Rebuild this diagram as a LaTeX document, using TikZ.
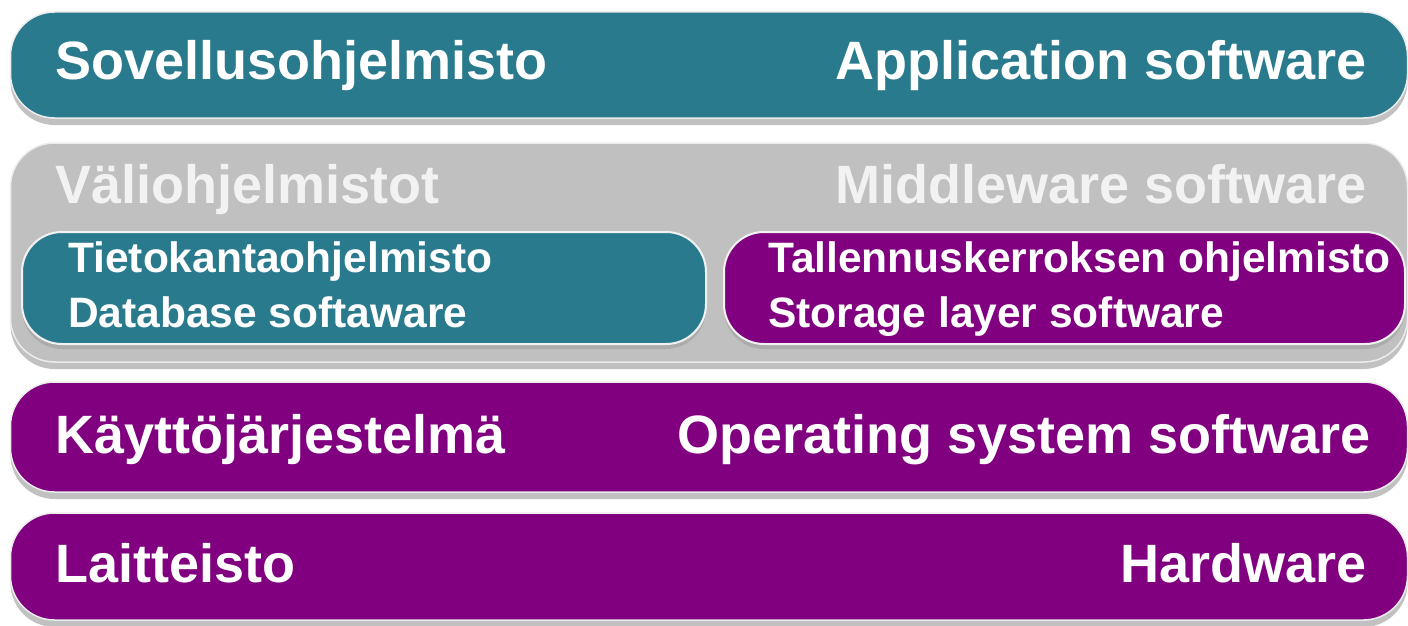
\documentclass[tikz,border=0pt]{standalone}
\usepackage{fontspec}
\setmainfont{Liberation Sans}
\usetikzlibrary{shadows}
\definecolor{tealbar}{HTML}{2A7A8E}
\definecolor{purpbar}{HTML}{800080}
\definecolor{graybar}{HTML}{C0C0C0}
\definecolor{graytxt}{HTML}{F2F2F2}
\begin{document}
\begin{tikzpicture}[x=1pt,y=-1pt,
  bar/.style={rounded corners=44pt, draw=white!85!gray, line width=1.5pt,
    minimum width=1397pt, inner sep=0pt,
    drop shadow={shadow xshift=0pt, shadow yshift=-7pt, fill=black!40, opacity=0.6}},
  inbox/.style={rounded corners=40pt, draw=white!90!gray, line width=2pt,
    minimum height=112pt, inner sep=0pt,
    drop shadow={shadow xshift=0pt, shadow yshift=-5pt, fill=black!40, opacity=0.5}},
  big/.style={text=white, inner sep=0pt, font=\fontsize{54}{60}\selectfont\bfseries},
  small/.style={text=white, inner sep=0pt, font=\fontsize{42.5}{46}\selectfont\bfseries},
]
\useasboundingbox (0,0) rectangle (1408,626);
\fill[white] (0,0) rectangle (1408,626);

% bars
\node[bar, fill=tealbar, minimum height=106pt] (app) at (709,65) {};
\node[bar, fill=graybar, minimum height=219pt] (mid) at (709,252.5) {};
\node[inbox, fill=tealbar, minimum width=684pt] (db) at (364,288) {};
\node[inbox, fill=purpbar, minimum width=681pt] (st) at (1064.5,288) {};
\node[bar, fill=purpbar, minimum height=110pt] (os) at (709,437) {};
\node[bar, fill=purpbar, minimum height=107pt] (hw) at (709,566.5) {};

% labels
\node[big, anchor=base west] (appfi) at (55,80) {Sovellusohjelmisto};
\node[big, anchor=base east] (appen) at (1367,80) {Application software};
\node[big, anchor=base west, text=graytxt] (midfi) at (55,203) {Väliohjelmistot};
\node[big, anchor=base east, text=graytxt] (miden) at (1367,203) {Middleware software};
\node[small, anchor=base west] (db1) at (68,272) {Tietokantaohjelmisto};
\node[small, anchor=base west] (db2) at (68,327) {Database softaware};
\node[small, anchor=base west] (st1) at (768,272) {Tallennuskerroksen ohjelmisto};
\node[small, anchor=base west] (st2) at (768,327) {Storage layer software};
\node[big, anchor=base west] (osfi) at (55,453) {Käyttöjärjestelmä};
\node[big, anchor=base east] (osen) at (1371,453) {Operating system software};
\node[big, anchor=base west] (hwfi) at (55,582) {Laitteisto};
\node[big, anchor=base east] (hwen) at (1367,582) {Hardware};
\end{tikzpicture}
\end{document}
